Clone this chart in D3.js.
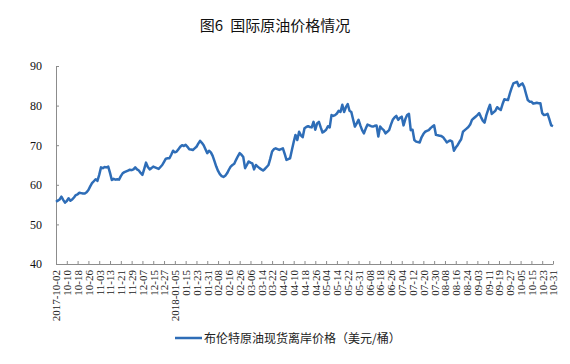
<!DOCTYPE html>
<html><head><meta charset="utf-8">
<script src="https://cdn.jsdelivr.net/npm/d3@7"></script>
<style>body{margin:0;background:#fff;}svg{display:block;}</style>
</head><body>
<svg id="c" width="570" height="364"></svg>
<script>
const title = "图6 国际原油价格情况";
const seriesName = "布伦特原油现货离岸价格（美元/桶）";
const tickLabels = ["2017-10-02","10-10","10-18","10-26","11-03","11-13","11-21","11-29","12-07","12-15","12-27",
"2018-01-05","01-15","01-23","01-31","02-08","02-16","02-26","03-06","03-14","03-22","04-02","04-10","04-18","04-26",
"05-04","05-14","05-22","05-31","06-08","06-18","06-26","07-04","07-12","07-20","07-30","08-08","08-16","08-24",
"09-03","09-11","09-19","09-27","10-05","10-15","10-23","10-31"];
const yTicks = [40,50,60,70,80,90];
const prices = [
55.7,56.0,56.3,57.0,56.2,55.5,55.9,56.6,56.0,56.3,
56.8,57.4,57.6,58.0,57.9,57.8,57.8,58.1,58.7,59.6,
60.4,60.9,61.4,61.0,62.5,64.4,64.2,64.5,64.4,64.6,
63.0,61.2,61.5,61.3,61.4,61.3,62.2,62.9,63.2,63.4,
63.6,63.8,63.7,63.9,64.4,63.9,63.6,63.0,62.5,64.0,
65.6,64.5,63.9,64.2,64.6,64.4,64.2,64.0,64.5,65.0,
65.8,66.6,66.7,66.7,67.6,68.6,68.2,68.4,69.0,69.6,
70.0,69.8,70.1,69.6,69.0,68.9,68.8,69.2,69.6,70.4,
71.1,70.6,70.0,69.0,68.0,68.6,68.2,67.3,66.0,64.6,
63.5,62.7,62.2,62.0,62.3,62.9,63.8,64.6,65.0,65.3,
66.3,67.2,68.0,67.6,67.0,64.2,65.0,65.9,65.6,65.4,
63.9,65.0,64.6,64.2,63.9,63.6,64.0,64.5,65.0,66.6,
68.4,69.0,69.2,69.0,68.8,69.0,69.2,67.8,66.3,66.5,
66.7,68.8,70.8,72.6,71.3,73.4,72.5,72.0,74.3,74.6,
74.8,74.6,74.5,75.9,73.9,75.5,75.9,74.5,73.2,73.5,
73.9,74.8,74.5,77.6,77.4,77.6,78.0,78.7,78.4,80.2,
78.4,79.6,80.4,78.7,78.4,76.5,74.7,75.5,76.4,75.0,
73.8,73.0,74.2,75.2,75.0,74.8,74.7,74.9,75.0,72.2,
74.7,74.2,73.8,73.0,73.4,73.8,75.2,76.4,77.0,77.4,
76.4,76.9,77.2,75.0,76.6,77.6,77.9,73.8,73.9,71.3,
70.9,70.8,70.7,72.0,72.8,73.4,73.6,73.8,74.3,74.7,
75.0,72.6,72.5,72.4,72.3,72.0,71.4,70.7,71.0,71.2,
70.9,68.6,69.4,70.0,70.8,71.5,73.4,73.8,74.2,74.6,
75.2,76.4,76.8,77.2,77.6,78.1,77.1,76.2,75.7,77.6,
79.0,80.2,77.9,78.3,78.7,79.6,79.2,78.9,80.4,81.6,
81.5,81.4,83.0,84.4,85.6,85.8,86.0,84.9,85.3,85.6,
84.7,83.0,81.4,81.0,81.0,80.5,80.6,80.7,80.6,80.6,
78.1,77.6,77.7,77.9,76.5,75.0,74.8];
const tickStep = 6;

const svg = d3.select("#c");
const mLeft = 56, mRight = 553, mTop = 66, mBottom = 264;
const color = "#2E6DB7";
const axisColor = "#8c8c8c";

const x = d3.scaleLinear().domain([0, prices.length - 1]).range([mLeft, mRight]);
const y = d3.scaleLinear().domain([40, 90]).range([mBottom, mTop]);

const titleParts = title.split(" ");
const t = svg.append("text").attr("x", 275).attr("y", 31).attr("text-anchor", "middle")
  .attr("font-family", "'Noto Sans CJK SC', sans-serif").attr("font-size", 15).attr("font-weight", 400)
  .attr("fill", "#111");
t.append("tspan").text(titleParts[0]);
t.append("tspan").attr("dx", 7).text(titleParts.slice(1).join(" "));

// Y axis
const yAxis = svg.append("g").attr("transform", `translate(${mLeft},0)`)
  .call(d3.axisLeft(y).tickValues(yTicks).tickSize(-3).tickPadding(14).tickSizeOuter(0));
yAxis.select(".domain").attr("stroke", axisColor);
yAxis.selectAll(".tick line").attr("stroke", axisColor);
yAxis.selectAll("text").attr("font-family", "'Liberation Serif', serif").attr("font-size", 12).attr("fill", "#111");

// X axis
const tickIdx = tickLabels.map((_, i) => i * tickStep);
const xAxis = svg.append("g").attr("transform", `translate(0,${mBottom})`)
  .call(d3.axisBottom(x).tickValues(tickIdx).tickFormat((d, i) => tickLabels[i]).tickSize(-3).tickSizeOuter(0));
xAxis.select(".domain").attr("stroke", axisColor);
xAxis.selectAll(".tick line").attr("stroke", axisColor);
xAxis.selectAll("text")
  .attr("font-family", "'Liberation Serif', serif").attr("font-size", 11).attr("fill", "#222")
  .attr("text-anchor", "end").attr("dy", "0.35em")
  .attr("transform", "translate(0,6) rotate(-90)").attr("x", 0).attr("y", 0);

// Line
const line = d3.line().x((d, i) => x(i)).y(d => y(d));
svg.append("path").datum(prices).attr("d", line).attr("fill", "none")
  .attr("stroke", color).attr("stroke-width", 2.5).attr("stroke-linejoin", "round");

// Legend
svg.append("line").attr("x1", 175).attr("x2", 202).attr("y1", 338).attr("y2", 338)
  .attr("stroke", color).attr("stroke-width", 2.5);
svg.append("text").attr("x", 204).attr("y", 342.5)
  .attr("font-family", "'Noto Sans CJK SC', sans-serif").attr("font-size", 12).attr("fill", "#222")
  .text(seriesName);
</script>
</body></html>
